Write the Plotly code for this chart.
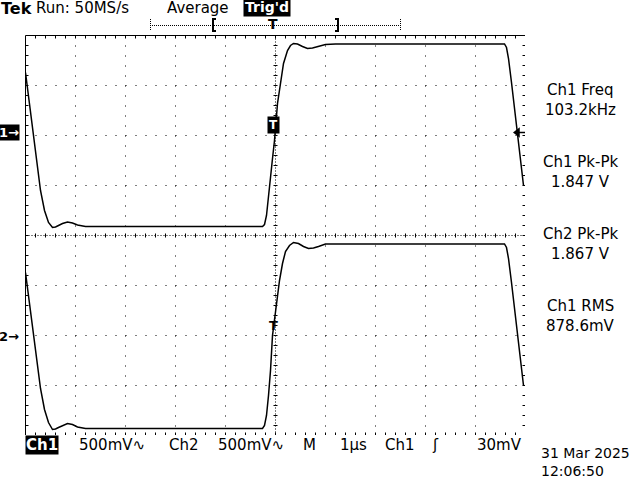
import plotly.graph_objects as go

# ---------------- data ----------------
ch1_time = [-5.0, -4.96, -4.9, -4.8, -4.7, -4.62, -4.54, -4.46, -4.4, -4.34, -4.26, -4.16, -4.06, -3.96, -3.8,
            -0.26, -0.22, -0.18, -0.14, -0.1, -0.06, -0.02, 0.02, 0.04, 0.1, 0.16, 0.24, 0.3, 0.36, 0.44, 0.54,
            0.64, 0.74, 0.86, 1.0, 1.2, 4.58, 4.62, 4.66, 4.72, 4.8, 4.88, 4.96]
ch1_v = [0.63, 0.47, 0.23, -0.17, -0.55, -0.75, -0.87, -0.92, -0.915, -0.90, -0.88, -0.865, -0.875, -0.895, -0.91,
         -0.91, -0.89, -0.80, -0.63, -0.43, -0.23, -0.05, 0.17, 0.32, 0.52, 0.72, 0.85, 0.90, 0.92, 0.915, 0.89,
         0.87, 0.875, 0.89, 0.91, 0.915, 0.915, 0.88, 0.77, 0.53, 0.20, -0.15, -0.50]

ch2_time = [-5.0, -4.96, -4.9, -4.8, -4.7, -4.62, -4.54, -4.46, -4.4, -4.34, -4.26, -4.16, -4.06, -3.96, -3.8,
            -0.26, -0.22, -0.18, -0.14, -0.1, -0.06, -0.02, 0.02, 0.08, 0.14, 0.2, 0.28, 0.36, 0.46, 0.56,
            0.66, 0.76, 0.86, 1.0, 1.2, 4.58, 4.62, 4.66, 4.72, 4.8, 4.88, 4.96]
ch2_v = [0.63, 0.47, 0.23, -0.17, -0.53, -0.74, -0.87, -0.94, -0.935, -0.92, -0.90, -0.88, -0.89, -0.915, -0.93,
         -0.93, -0.90, -0.80, -0.60, -0.35, 0.0, 0.17, 0.35, 0.55, 0.72, 0.84, 0.90, 0.93, 0.92, 0.89,
         0.87, 0.875, 0.89, 0.915, 0.915, 0.915, 0.88, 0.77, 0.53, 0.19, -0.15, -0.50]

volts_per_div = 0.5
ch1_offset_div = 2.0
ch2_offset_div = -2.0
trig_level_v = 0.03
trig_time_us = -0.04

meas_names = ["Ch1 Freq", "Ch1 Pk-Pk", "Ch2 Pk-Pk", "Ch1 RMS"]
meas_values = ["103.2kHz", "1.847 V", "1.867 V", "878.6mV"]

status_items = ["500mV∿", "Ch2", "500mV∿", "M", "1µs", "Ch1", "ʃ", "30mV"]
status_x = [78, 168, 217, 302, 339, 384, 431, 476]

header_items = ["Run: 50MS/s", "Average"]
header_x = [35, 166]
date_text = "31 Mar 2025"
time_text = "12:06:50"

# ---------------- layout geometry ----------------
W, H = 640, 480
L, R, T, B = 25, 115, 35, 45
PW, PH = W - L - R, H - T - B
FONT = "DejaVu Sans"


def pxx(x):
    return (x - L) / PW


def pxy(y):
    return (H - B - y) / PH


fig = go.Figure()

# graticule ticks
tx, ty = [], []


def seg(x0, y0, x1, y1):
    tx.extend([x0, x1, None])
    ty.extend([y0, y1, None])


for i in range(1, 50):
    x = -5 + i * 0.2
    seg(x, 4, x, 4 - 0.06)
    seg(x, -4, x, -4 + 0.06)
    seg(x, -0.04, x, 0.04)
for j in range(1, 40):
    y = -4 + j * 0.2
    seg(-5, y, -5 + 0.06, y)
    seg(5, y, 5 - 0.06, y)
    seg(-0.04, y, 0.04, y)

fig.add_trace(go.Scatter(x=tx, y=ty, mode="lines", line=dict(color="black", width=1),
                         hoverinfo="skip", showlegend=False))

shapes = []
for k in range(-4, 5):
    if k == 0:
        continue
    shapes.append(dict(type="line", xref="x", yref="y", x0=k, x1=k, y0=4, y1=-4, layer="below",
                       line=dict(color="black", width=1, dash="1px,9px")))
for k in range(-3, 4):
    if k == 0:
        continue
    shapes.append(dict(type="line", xref="x", yref="y", x0=-5, x1=5, y0=k, y1=k, layer="below",
                       line=dict(color="black", width=1, dash="1px,9px")))
shapes.append(dict(type="line", xref="x", yref="y", x0=0, x1=0, y0=4, y1=-4, layer="below",
                   line=dict(color="black", width=1, dash="1px,2px")))
shapes.append(dict(type="line", xref="x", yref="y", x0=-5, x1=5, y0=0, y1=0, layer="below",
                   line=dict(color="black", width=1, dash="1px,2px")))
shapes.append(dict(type="rect", xref="x", yref="y", x0=-5, x1=5, y0=-4, y1=4,
                   line=dict(color="black", width=1)))

# record-length bar at top
bar_y = 25.5
shapes.append(dict(type="line", xref="paper", yref="paper", x0=pxx(150), x1=pxx(400), y0=pxy(bar_y), y1=pxy(bar_y),
                   line=dict(color="black", width=1, dash="1px,1px")))
for bx in (150.5, 400.5):
    shapes.append(dict(type="line", xref="paper", yref="paper", x0=pxx(bx), x1=pxx(bx), y0=pxy(19), y1=pxy(31),
                       line=dict(color="black", width=1, dash="1px,1px")))
shapes.append(dict(type="path", xref="paper", yref="paper",
                   path="M %f %f L %f %f L %f %f L %f %f" % (pxx(216), pxy(19), pxx(213), pxy(19), pxx(213), pxy(31), pxx(216), pxy(31)),
                   line=dict(color="black", width=2)))
shapes.append(dict(type="path", xref="paper", yref="paper",
                   path="M %f %f L %f %f L %f %f L %f %f" % (pxx(335), pxy(19), pxx(338), pxy(19), pxx(338), pxy(31), pxx(335), pxy(31)),
                   line=dict(color="black", width=2)))

# waveforms
fig.add_trace(go.Scatter(x=ch1_time, y=[v / volts_per_div + ch1_offset_div for v in ch1_v], mode="lines",
                         line=dict(color="black", width=1.5), hoverinfo="skip", showlegend=False))
fig.add_trace(go.Scatter(x=ch2_time, y=[v / volts_per_div + ch2_offset_div for v in ch2_v], mode="lines",
                         line=dict(color="black", width=1.5), hoverinfo="skip", showlegend=False))

# trigger level indicator on right edge
trig_y = trig_level_v / volts_per_div + ch1_offset_div
fig.add_trace(go.Scatter(x=[4.85, 5.0], y=[trig_y, trig_y], mode="lines", line=dict(color="black", width=1.5),
                         hoverinfo="skip", showlegend=False))
fig.add_trace(go.Scatter(x=[4.84], y=[trig_y], mode="markers",
                         marker=dict(symbol="triangle-left", size=9, color="black"),
                         hoverinfo="skip", showlegend=False))

ann = []


def text(t, x, y, size=15, color="black", bg=None, xanchor="center", yanchor="middle", bold=False, pad=1):
    d = dict(text=("<b>%s</b>" % t) if bold else t, x=pxx(x), y=pxy(y), xref="paper", yref="paper",
             showarrow=False, xanchor=xanchor, yanchor=yanchor,
             font=dict(family=FONT, size=size, color=color), borderpad=pad)
    if bg:
        d["bgcolor"] = bg
    ann.append(d)


# header
text("Tek", 0, 8, size=16, xanchor="left", bold=True, pad=0)
for t, x in zip(header_items, header_x):
    text(t, x, 8, xanchor="left", pad=0)
text("Trig'd", 267, 7, size=14, color="white", bg="black", bold=True, pad=1)
text("T", 273, 24, size=14, bold=True, pad=0)

# measurements (name box sits just above value box)
for i, (n, v) in enumerate(zip(meas_names, meas_values)):
    split = 99.5 + 72.3 * i
    text(n, 580, split, yanchor="bottom", pad=0)
    text(v, 580, split, yanchor="top", pad=0)

# status line
text("Ch1", 25, 445, color="white", bg="black", xanchor="left", bold=True, pad=0)
for t, x in zip(status_items, status_x):
    text(t, x, 445, xanchor="left", pad=0)
text(date_text, 540, 462, size=14, xanchor="left", yanchor="bottom", pad=0)
text(time_text, 540, 462, size=14, xanchor="left", yanchor="top", pad=0)

# ground markers (paper x, data y)
ann.append(dict(text="<b>1→</b>", x=pxx(9), y=ch1_offset_div, xref="paper", yref="y", yshift=3,
                showarrow=False, xanchor="center", yanchor="middle",
                font=dict(family=FONT, size=13, color="white"), bgcolor="black", borderpad=0))
ann.append(dict(text="<b>2→</b>", x=pxx(9), y=ch2_offset_div, xref="paper", yref="y", yshift=-1,
                showarrow=False, xanchor="center", yanchor="middle",
                font=dict(family=FONT, size=13, color="black"), borderpad=0))
# trigger position markers on traces
ann.append(dict(text="<b>T</b>", x=trig_time_us, y=ch1_offset_div + 0.22, xref="x", yref="y",
                showarrow=False, xanchor="center", yanchor="middle",
                font=dict(family=FONT, size=12, color="white"), bgcolor="black", borderpad=1))
ann.append(dict(text="<b>T</b>", x=trig_time_us, y=ch2_offset_div + 0.2, xref="x", yref="y",
                showarrow=False, xanchor="center", yanchor="middle",
                font=dict(family=FONT, size=13, color="black"), borderpad=0))

fig.update_layout(
    width=W, height=H,
    margin=dict(l=L, r=R, t=T, b=B, pad=0),
    paper_bgcolor="white", plot_bgcolor="white",
    xaxis=dict(range=[-5.01, 4.99], visible=False, fixedrange=True),
    yaxis=dict(range=[-3.99, 4.01], visible=False, fixedrange=True),
    shapes=shapes, annotations=ann, showlegend=False,
)

fig.write_html("out.html", config={"displayModeBar": False},
               post_script="document.body.style.margin='0px';document.body.style.overflow='hidden';")
